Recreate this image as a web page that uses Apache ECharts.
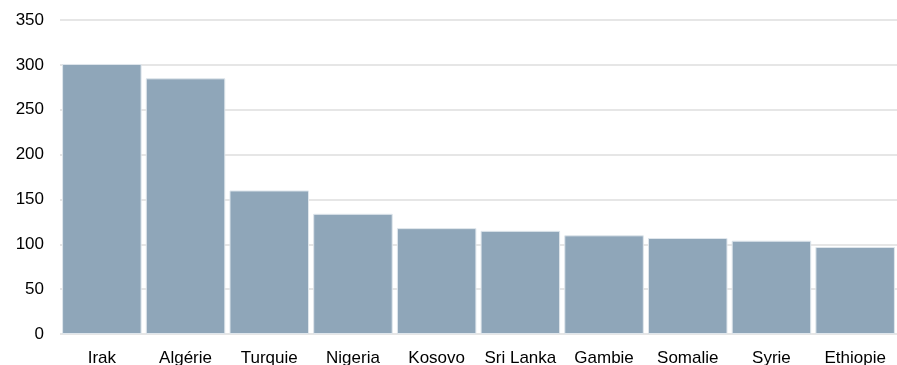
<!DOCTYPE html>
<html><head><meta charset="utf-8">
<script src="https://cdn.jsdelivr.net/npm/echarts@6/dist/echarts.min.js"></script>
<style>html,body{margin:0;padding:0;background:#fff}#c{width:897px;height:365px}</style>
</head><body><div id="c"></div>
<script>
const categories = ["Irak","Algérie","Turquie","Nigeria","Kosovo","Sri Lanka","Gambie","Somalie","Syrie","Ethiopie"];
const values = [301,285,160,134,118,115,110,107,104,97];
const yTicks = [0,50,100,150,200,250,300,350];

const chart = echarts.init(document.getElementById('c'), null, {renderer:'canvas'});
chart.setOption({
  animation:false,
  grid:{left:60,right:0,top:20,bottom:31,containLabel:false,outerBoundsMode:'none'},
  xAxis:{type:'category',data:categories,
    axisLine:{show:false},axisTick:{show:false},
    axisLabel:{color:'#000',fontSize:17,fontFamily:'Liberation Sans, Arial, sans-serif',margin:16,interval:0}},
  yAxis:{type:'value',min:yTicks[0],max:yTicks[yTicks.length-1],interval:50,
    axisLine:{show:false},axisTick:{show:false},
    axisLabel:{color:'#000',fontSize:17,fontFamily:'Liberation Sans, Arial, sans-serif',margin:16},
    splitLine:{lineStyle:{color:'#dedede',width:1.5}}},
  series:[{type:'bar',data:values,barCategoryGap:'5%',
    itemStyle:{color:'#8fa6b9',borderColor:'#dfe6ec',borderWidth:1}}]
});
</script></body></html>
